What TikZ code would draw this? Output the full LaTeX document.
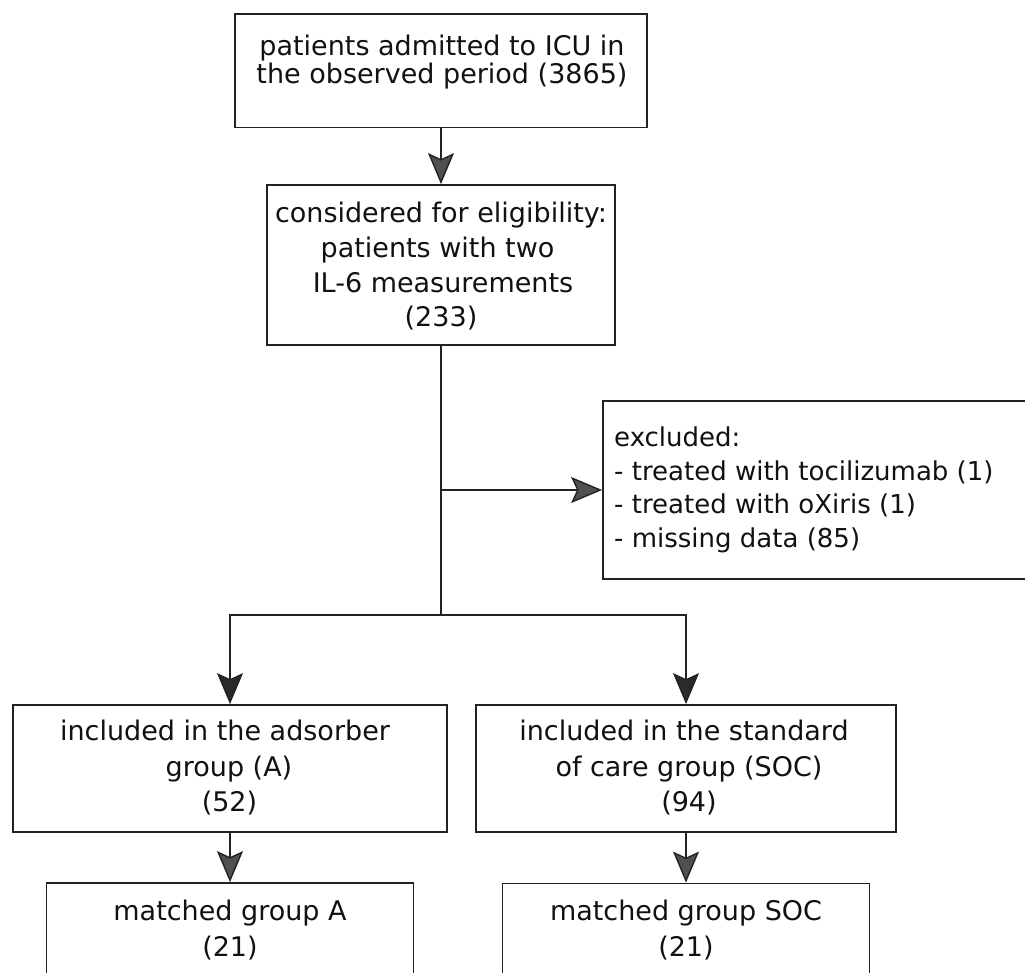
\documentclass[tikz,border=0pt]{standalone}
\usepackage{fontspec}
\setmainfont{DejaVu Sans}
\usetikzlibrary{arrows.meta}
\definecolor{linec}{HTML}{222222}
\definecolor{headgray}{HTML}{505050}
\definecolor{headdark}{HTML}{2A2A2A}
\definecolor{txtc}{HTML}{111111}
\begin{document}
\begin{tikzpicture}[x=1pt,y=-1pt,
  box/.style={draw=linec, line width=1.8pt, fill=white, inner sep=0pt, rectangle},
  ln/.style={inner sep=0pt, anchor=base, text=txtc, font=\fontsize{27}{28}\selectfont},
  lnl/.style={inner sep=0pt, anchor=base west, text=txtc, font=\fontsize{26}{28}\selectfont},
  conn/.style={draw=linec, line width=1.8pt},
  arr/.style={conn, -{Stealth[length=31pt,width=26pt,inset=6pt,fill=headgray,line width=1.4pt]}},
  darr/.style={conn, -{Stealth[length=31pt,width=26pt,inset=6pt,fill=headdark,line width=1.4pt]}}
]
\useasboundingbox (0,0) rectangle (1025,972);
\fill[white] (0,0) rectangle (1025,972);

% boxes
\node[box, minimum width=412pt, minimum height=113.5pt] (b1) at (441,70.75) {};
\node[box, minimum width=348pt, minimum height=160pt] (b2) at (441,265) {};
\node[box, minimum width=442pt, minimum height=178pt] (b3) at (824,490) {};
\node[box, minimum width=434pt, minimum height=127pt] (b4) at (230,768.5) {};
\node[box, minimum width=420pt, minimum height=127pt] (b5) at (686,768.5) {};
\node[box, minimum width=367pt, minimum height=112pt] (b6) at (230,939) {};
\node[box, minimum width=367pt, minimum height=112pt] (b7) at (686,939.5) {};

% texts
\node[ln] (t1a) at (442,55) {patients admitted to ICU in};
\node[ln] (t1b) at (442,83) {the observed period (3865)};

\node[ln] (t2a) at (441,222) {considered for eligibility:};
\node[ln] (t2b) at (437.5,257) {patients with two};
\node[ln] (t2c) at (443,292) {IL-6 measurements};
\node[ln] (t2d) at (441,326) {(233)};

\node[lnl] (t3a) at (614,446) {excluded:};
\node[lnl] (t3b) at (614,480) {- treated with tocilizumab (1)};
\node[lnl] (t3c) at (614,513.5) {- treated with oXiris (1)};
\node[lnl] (t3d) at (614,547) {- missing data (85)};

\node[ln] (t4a) at (225,740) {included in the adsorber};
\node[ln] (t4b) at (229,776) {group (A)};
\node[ln] (t4c) at (229.5,811) {(52)};

\node[ln] (t5a) at (684,740) {included in the standard};
\node[ln] (t5b) at (689,776) {of care group (SOC)};
\node[ln] (t5c) at (689,811) {(94)};

\node[ln] (t6a) at (230,920) {matched group A};
\node[ln] (t6b) at (230,956) {(21)};

\node[ln] (t7a) at (686,920) {matched group SOC};
\node[ln] (t7b) at (686,956) {(21)};

% connectors
\coordinate (j1) at (441,490);
\coordinate (j2) at (441,615);
\draw[arr] (b1.south) -- (b2.north);
\draw[conn] (b2.south) -- (j2);
\draw[arr] (j1) -- (b3.west);
\draw[darr] (j2) -| (b4.north);
\draw[darr] (j2) -| (b5.north);
\draw[arr] (b4.south) -- (b6.north);
\draw[arr] (b5.south) -- (b7.north);
\end{tikzpicture}
\end{document}
